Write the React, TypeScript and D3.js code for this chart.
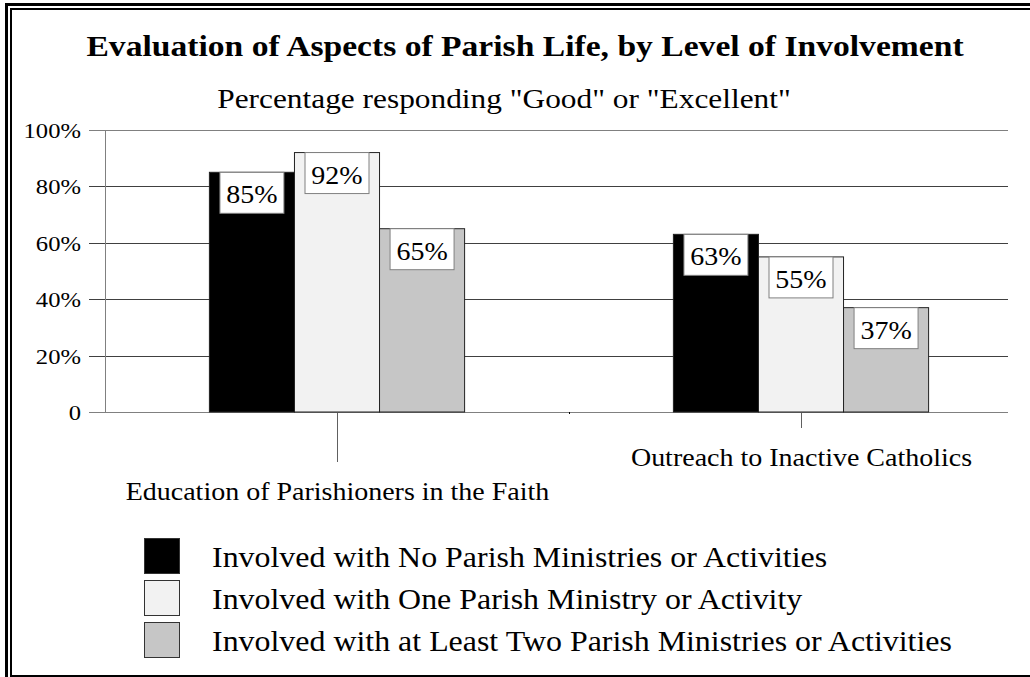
import React from "react";
import * as d3 from "d3";

// values
const categories = [
  "Education of Parishioners in the Faith",
  "Outreach to Inactive Catholics",
];
const seriesNames = [
  "Involved with No Parish Ministries or Activities",
  "Involved with One Parish Ministry or Activity",
  "Involved with at Least Two Parish Ministries or Activities",
];
const noMinistry = [85, 63];
const oneMinistry = [92, 55];
const twoPlusMinistries = [65, 37];
const yTicks = [0, 20, 40, 60, 80, 100];
const seriesColors = ["#000000", "#f2f2f2", "#c6c6c6"];

const title = "Evaluation of Aspects of Parish Life, by Level of Involvement";
const subtitle = 'Percentage responding "Good" or "Excellent"';

const W = 1030;
const H = 677;
const FONT = '"Liberation Serif", "Times New Roman", serif';
const SX = 1.12; // the original text is a little wider than the font

const ST = (props: {
  x: number;
  y: number;
  size: number;
  anchor?: string;
  bold?: boolean;
  children: React.ReactNode;
}) => (
  <g transform={`translate(${props.x},${props.y}) scale(${SX},1)`}>
    <text
      x={0}
      y={0}
      fontSize={props.size}
      fontFamily={FONT}
      fontWeight={props.bold ? "bold" : "normal"}
      textAnchor={props.anchor || "start"}
      fill="#000"
    >
      {props.children}
    </text>
  </g>
);

export default function App() {
  const series = [noMinistry, oneMinistry, twoPlusMinistries];

  const y = d3.scaleLinear().domain([0, 100]).range([412, 130]);
  const x0 = d3
    .scaleBand<string>()
    .domain(categories)
    .range([105, 1033])
    .paddingInner(0.45)
    .paddingOuter(0.225);
  const x1 = d3
    .scaleBand<string>()
    .domain(seriesNames)
    .range([0, x0.bandwidth()]);

  const gridLeft = 89;
  const gridRight = 1008;

  return (
    <svg
      width={W}
      height={H}
      style={{ position: "absolute", left: 0, top: 0, display: "block", overflow: "hidden" }}
    >
      <rect x={0} y={0} width={W} height={H} fill="#fff" />
      {/* double frame, running past the right edge */}
      <rect x={6.5} y={4.5} width={1200} height={1000} fill="none" stroke="#000" strokeWidth={3} />
      <rect x={11} y={9} width={1200} height={667} fill="none" stroke="#000" strokeWidth={2} />

      <ST x={525} y={56} size={30} anchor="middle" bold>
        {title}
      </ST>
      <ST x={504} y={108} size={28} anchor="middle">
        {subtitle}
      </ST>

      {/* gridlines */}
      {yTicks.map((t) => (
        <line
          key={t}
          x1={gridLeft}
          x2={gridRight}
          y1={Math.round(y(t)) + 0.5}
          y2={Math.round(y(t)) + 0.5}
          stroke={t === 0 || t === 100 ? "#808080" : "#404040"}
          strokeWidth={1}
        />
      ))}
      <line x1={105.5} x2={105.5} y1={Math.round(y(100))} y2={Math.round(y(0)) + 1} stroke="#808080" />
      {yTicks.map((t) => (
        <ST key={t} x={81} y={y(t) + 8} size={22} anchor="end">
          {t === 0 ? "0" : `${t}%`}
        </ST>
      ))}

      {/* bars */}
      {categories.map((c, ci) =>
        seriesNames.map((s, si) => {
          const v = series[si][ci];
          const bx = (x0(c) || 0) + (x1(s) || 0);
          return (
            <rect
              key={c + s}
              x={bx}
              y={y(v)}
              width={x1.bandwidth()}
              height={y(0) - y(v)}
              fill={seriesColors[si]}
              stroke="#222"
              strokeWidth={1}
            />
          );
        })
      )}

      {/* value labels */}
      {categories.map((c, ci) =>
        seriesNames.map((s, si) => {
          const v = series[si][ci];
          const cx = (x0(c) || 0) + (x1(s) || 0) + x1.bandwidth() / 2;
          return (
            <g key={"l" + c + s}>
              <rect
                x={cx - 32}
                y={y(v)}
                width={64}
                height={41}
                fill="#fff"
                stroke="#808080"
                strokeWidth={1}
              />
              <ST x={cx} y={y(v) + 31} size={25} anchor="middle">
                {`${v}%`}
              </ST>
            </g>
          );
        })
      )}

      {/* category ticks and labels, staggered */}
      {categories.map((c, ci) => {
        const cx = Math.round((x0(c) || 0) + x0.bandwidth() / 2) + 0.5;
        const tickEnd = ci % 2 === 0 ? 462 : 428;
        return (
          <g key={"c" + c}>
            <line x1={cx} x2={cx} y1={y(0) + 1} y2={tickEnd} stroke="#606060" />
            <ST x={cx} y={tickEnd + 38} size={25} anchor="middle">
              {c}
            </ST>
          </g>
        );
      })}
      {/* band boundary tick */}
      <line
        x1={Math.round((x0(categories[1]) || 0) - x0.step() * 0.225) + 0.5}
        x2={Math.round((x0(categories[1]) || 0) - x0.step() * 0.225) + 0.5}
        y1={y(0)}
        y2={y(0) + 2}
        stroke="#000"
      />

      {/* legend */}
      {seriesNames.map((s, si) => (
        <g key={"lg" + s}>
          <rect
            x={144.5}
            y={538.5 + si * 42}
            width={35}
            height={35}
            fill={seriesColors[si]}
            stroke="#333"
          />
          <ST x={212} y={538 + si * 42 + 28.5} size={28.5}>
            {s}
          </ST>
        </g>
      ))}
    </svg>
  );
}
